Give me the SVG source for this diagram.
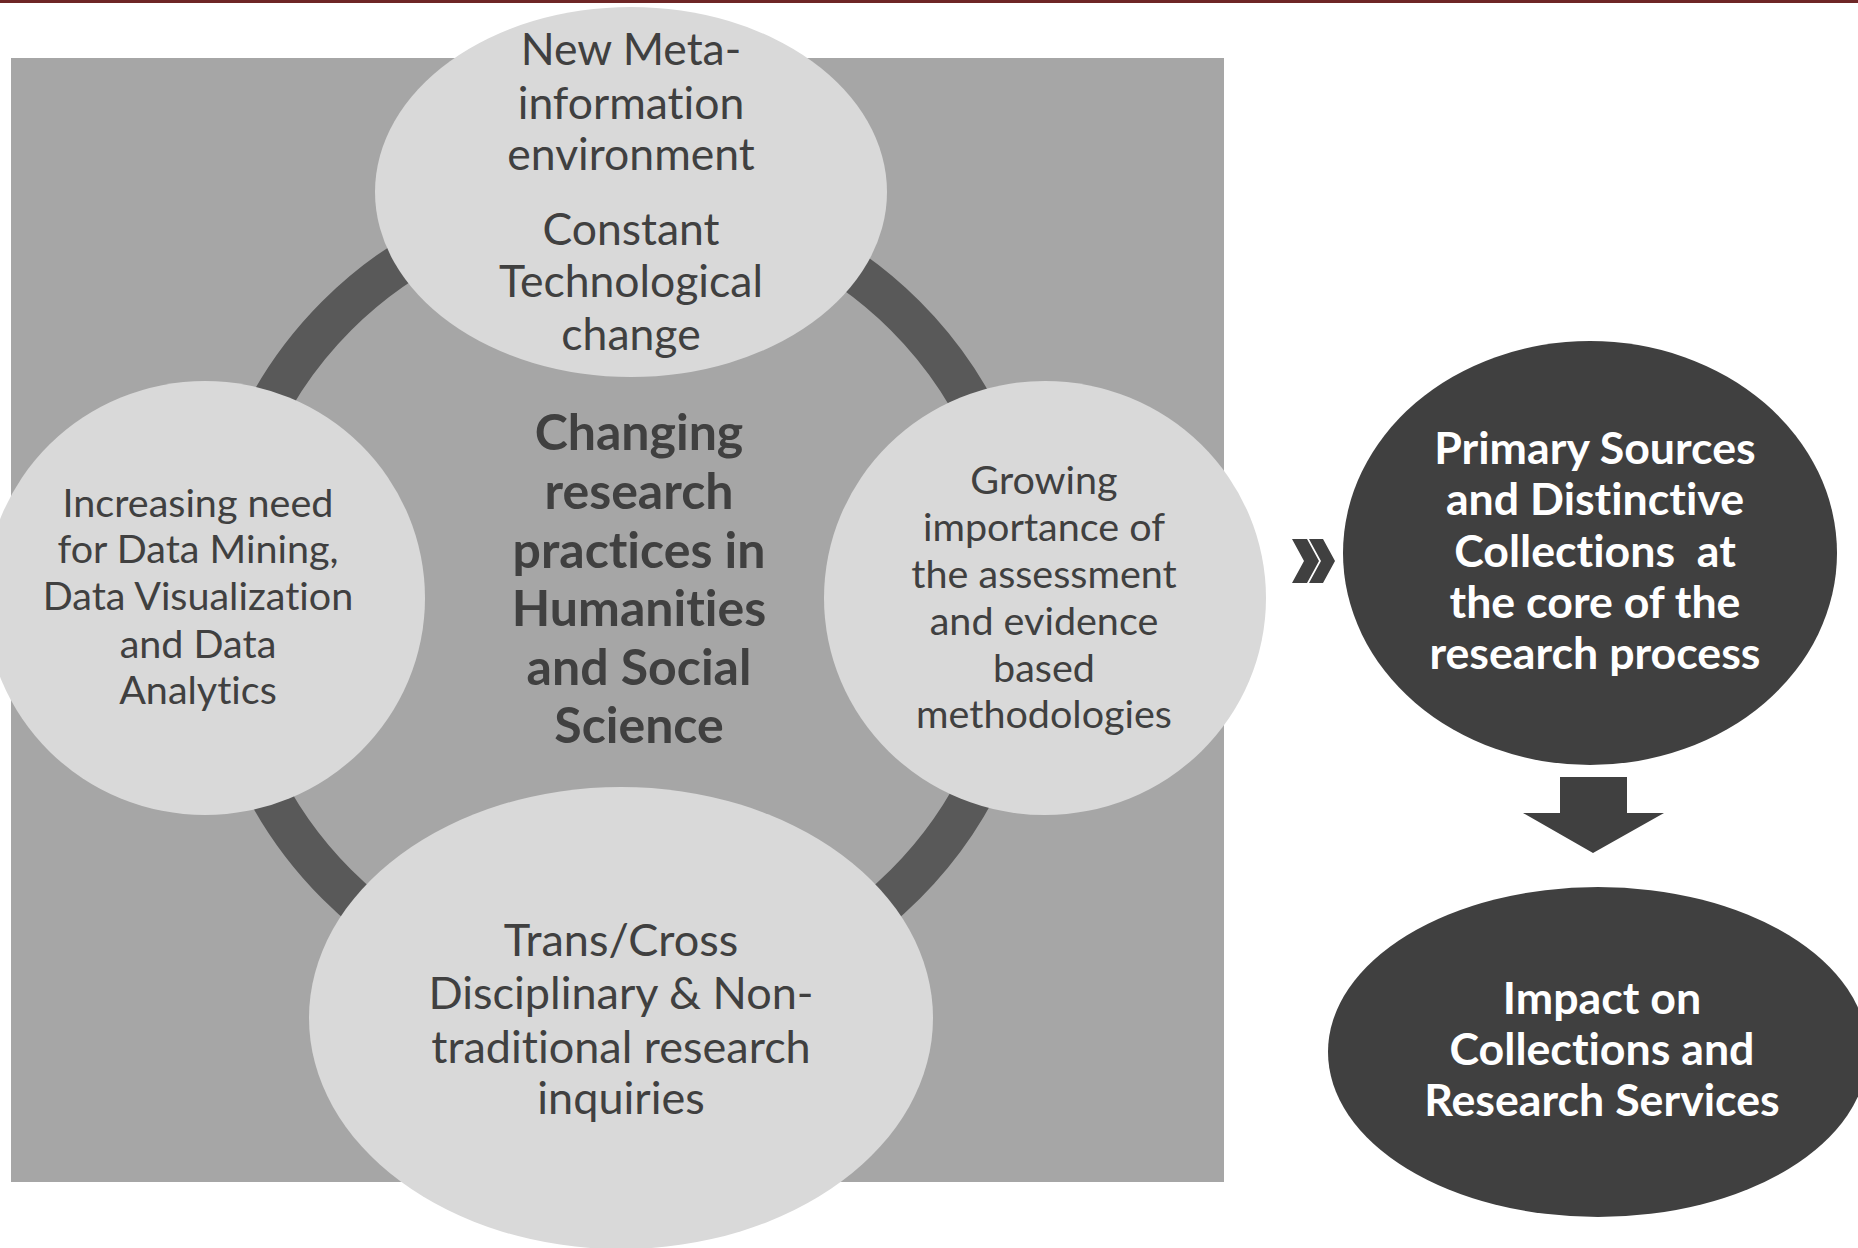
<svg xmlns="http://www.w3.org/2000/svg" width="1858" height="1248" viewBox="0 0 1858 1248">
<style>
.light{fill:#D9D9D9}
.dark{fill:#404040}
text{font-variant-ligatures:none;font-feature-settings:"liga" 0,"dlig" 0}
.t{font-family:Lato,"Liberation Sans",sans-serif;fill:#404040;text-anchor:middle}
.tl{font-size:44.5px}
.tb{font-size:45px}
.ts{font-size:39.5px}
.tc{font-size:50px;font-weight:bold}
.tw{font-family:Lato,"Liberation Sans",sans-serif;fill:#FFFFFF;font-weight:bold;font-size:44.7px;text-anchor:middle}
</style>
<rect x="0" y="0" width="1858" height="1248" fill="#FFFFFF"/>
<rect x="0" y="0" width="1858" height="3" fill="#6E2626"/>
<rect id="panel" x="11" y="58" width="1213" height="1124" fill="#A6A6A6"/>
<g id="connectors">
<circle cx="621" cy="600" r="402" fill="none" stroke="#595959" stroke-width="41"/>
<polygon class="dark" points="1292,539 1307,539 1319,561 1307,583 1292,583 1304,561"/>
<polygon class="dark" points="1309,539 1323,539 1335,561 1323,583 1309,583 1321,561"/>
<polygon class="dark" points="1560,777 1627,777 1627,813 1664,813 1593,853 1523,813 1560,813"/>
</g>
<g id="node-center">
<text class="t tc"><tspan x="639" y="450">Changing</tspan><tspan x="639" y="509">research</tspan><tspan x="639" y="568">practices in</tspan><tspan x="639" y="626">Humanities</tspan><tspan x="639" y="685">and Social</tspan><tspan x="639" y="743">Science</tspan></text>
</g>
<g id="node-top">
<ellipse class="light" cx="631" cy="192" rx="256" ry="185"/>
<text class="t tl"><tspan x="631" y="65">New Meta-</tspan><tspan x="631" y="119">information</tspan><tspan x="631" y="170">environment</tspan><tspan x="631" y="245">Constant</tspan><tspan x="631" y="297">Technological</tspan><tspan x="631" y="350">change</tspan></text>
</g>
<g id="node-left">
<ellipse class="light" cx="205" cy="598" rx="220" ry="217"/>
<text class="t ts"><tspan x="198" y="517">Increasing need</tspan><tspan x="198" y="563">for Data Mining,</tspan><tspan x="198" y="610">Data Visualization</tspan><tspan x="198" y="658">and Data</tspan><tspan x="198" y="704">Analytics</tspan></text>
</g>
<g id="node-right">
<ellipse class="light" cx="1045" cy="598" rx="221" ry="217"/>
<text class="t ts"><tspan x="1044" y="494">Growing</tspan><tspan x="1044" y="541">importance of</tspan><tspan x="1044" y="588">the assessment</tspan><tspan x="1044" y="635">and evidence</tspan><tspan x="1044" y="682">based</tspan><tspan x="1044" y="728">methodologies</tspan></text>
</g>
<g id="node-bottom">
<ellipse class="light" cx="621" cy="1018" rx="312" ry="231"/>
<text class="t tb"><tspan x="621" y="956">Trans/Cross</tspan><tspan x="621" y="1009">Disciplinary &amp; Non-</tspan><tspan x="621" y="1063">traditional research</tspan><tspan x="621" y="1114">inquiries</tspan></text>
</g>
<g id="node-primary">
<ellipse class="dark" cx="1590" cy="553" rx="247" ry="212"/>
<text class="tw" style="white-space:pre"><tspan x="1595" y="464">Primary Sources</tspan><tspan x="1595" y="515">and Distinctive</tspan><tspan x="1595" y="567">Collections  at</tspan><tspan x="1595" y="618">the core of the</tspan><tspan x="1595" y="669">research process</tspan></text>
</g>
<g id="node-impact">
<ellipse class="dark" cx="1598" cy="1052" rx="270" ry="165"/>
<text class="tw"><tspan x="1602" y="1014">Impact on</tspan><tspan x="1602" y="1065">Collections and</tspan><tspan x="1602" y="1116">Research Services</tspan></text>
</g>
</svg>
